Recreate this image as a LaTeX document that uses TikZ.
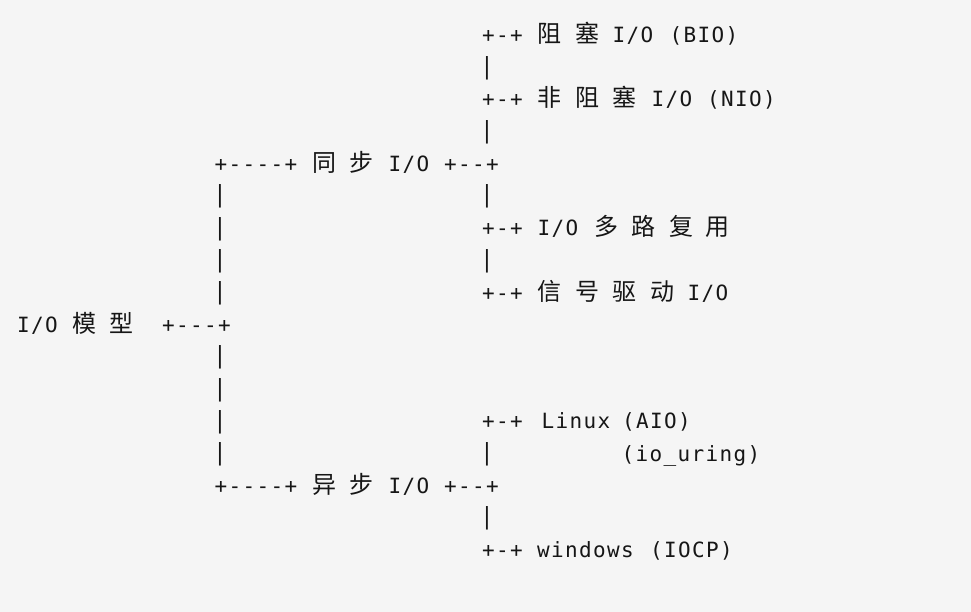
\documentclass[tikz,border=0pt]{standalone}
\usepackage{fontspec}
\usepackage{graphicx}
\newfontfamily\monof{DejaVu Sans Mono}
\newfontfamily\cjkf{Noto Sans CJK SC}
\definecolor{bgc}{HTML}{F5F5F5}
\definecolor{txt}{HTML}{161616}
\def\spc#1{\spcA#1\relax}
\def\spcA#1{\ifx#1\relax\else\makebox[14pt]{#1}\expandafter\spcA\fi}
\tikzset{
  asc/.style={anchor=base, inner sep=0pt, outer sep=0pt, text=txt, font=\monof\fontsize{21pt}{24pt}\selectfont},
  cj/.style={anchor=base, inner sep=0pt, outer sep=0pt, text=txt, font=\cjkf\fontsize{24pt}{28pt}\selectfont}
}
\newcommand\tk[4]{\node[asc] (#1) at (#2,{42.5+32.2*#3}) {\spc{#4}};}
\newcommand\ck[4]{\node[cj] (#1) at (#2,{42.5+32.2*#3}) {#4};}
\newcommand\bk[3]{\node[asc] (#1) at (#2,{42.5+32.2*#3}) {\raisebox{0.6pt}{\scalebox{1.05}[1.12]{|}}};}
\begin{document}
\begin{tikzpicture}[x=1pt,y=-1pt]
\fill[bgc] (0,0) rectangle (971,612);
\useasboundingbox (0,0) rectangle (971,612);
% row 0
\tk{r0a}{502.5}{0}{+-+}
\ck{r0b}{549}{0}{阻}
\ck{r0c}{587}{0}{塞}
\tk{r0d}{633}{0}{I/O}
\tk{r0e}{704}{0}{(BIO)}
% row 1
\bk{r1a}{487}{1}
% row 2
\tk{r2a}{502.5}{2}{+-+}
\ck{r2b}{549}{2}{非}
\ck{r2c}{587}{2}{阻}
\ck{r2d}{624}{2}{塞}
\tk{r2e}{672}{2}{I/O}
\tk{r2f}{741.5}{2}{(NIO)}
% row 3
\bk{r3a}{487}{3}
% row 4
\tk{r4a}{256}{4}{+----+}
\ck{r4b}{324}{4}{同}
\ck{r4c}{361.5}{4}{步}
\tk{r4d}{409}{4}{I/O}
\tk{r4e}{471.5}{4}{+--+}
% row 5
\bk{r5a}{220}{5}
\bk{r5b}{487}{5}
% row 6
\bk{r6a}{220}{6}
\tk{r6b}{502.5}{6}{+-+}
\tk{r6c}{558}{6}{I/O}
\ck{r6d}{606.5}{6}{多}
\ck{r6e}{643}{6}{路}
\ck{r6f}{681}{6}{复}
\ck{r6g}{717.5}{6}{用}
% row 7
\bk{r7a}{220}{7}
\bk{r7b}{487}{7}
% row 8
\bk{r8a}{220}{8}
\tk{r8b}{502.5}{8}{+-+}
\ck{r8c}{549}{8}{信}
\ck{r8d}{587}{8}{号}
\ck{r8e}{624}{8}{驱}
\ck{r8f}{662.5}{8}{动}
\tk{r8g}{708}{8}{I/O}
% row 9
\tk{r9a}{37.5}{9}{I/O}
\ck{r9b}{84.5}{9}{模}
\ck{r9c}{121.5}{9}{型}
\tk{r9d}{196.5}{9}{+---+}
% rows 10-11
\bk{r10a}{220}{10}
\bk{r11a}{220}{11}
% row 12
\bk{r12a}{220}{12}
\tk{r12b}{502.5}{12}{+-+}
\tk{r12c}{576}{12}{Linux}
\tk{r12d}{656.5}{12}{(AIO)}
% row 13
\bk{r13a}{220}{13}
\bk{r13b}{487}{13}
\tk{r13c}{691}{13}{(io\_uring)}
% row 14
\tk{r14a}{256}{14}{+----+}
\ck{r14b}{324}{14}{异}
\ck{r14c}{361.5}{14}{步}
\tk{r14d}{409}{14}{I/O}
\tk{r14e}{471.5}{14}{+--+}
% row 15
\bk{r15a}{487}{15}
% row 16
\tk{r16a}{502.5}{16}{+-+}
\tk{r16b}{585.5}{16}{windows}
\tk{r16c}{691.5}{16}{(IOCP)}
\end{tikzpicture}
\end{document}
